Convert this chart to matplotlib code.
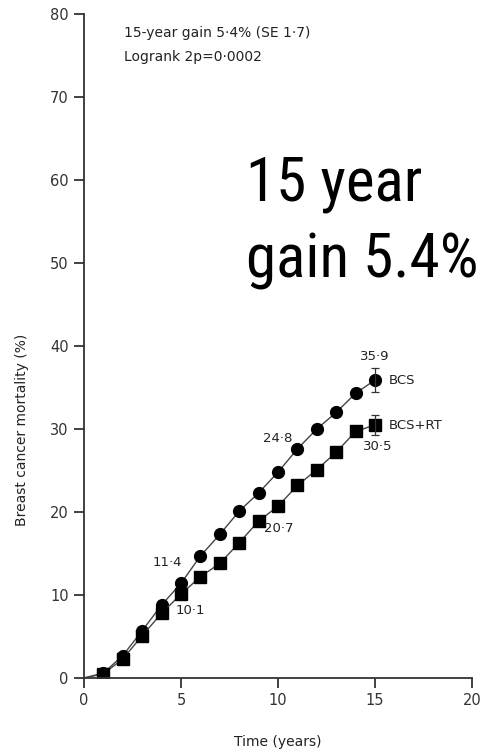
import matplotlib.pyplot as plt

years = [0, 1, 2, 3, 4, 5, 6, 7, 8, 9, 10, 11, 12, 13, 14, 15]
bcs = [0, 0.6, 2.7, 5.7, 8.8, 11.4, 14.7, 17.3, 20.1, 22.3, 24.8, 27.6, 30.0, 32.0, 34.3, 35.9]
bcs_rt = [0, 0.5, 2.3, 5.1, 7.8, 10.1, 12.2, 13.8, 16.3, 18.9, 20.7, 23.2, 25.1, 27.2, 29.7, 30.5]
bcs_se = 1.5
bcs_rt_se = 1.2

xticks = [0, 5, 10, 15, 20]
yticks = [0, 10, 20, 30, 40, 50, 60, 70, 80]

fig = plt.figure(figsize=(4.83, 7.54), dpi=100)
ax = fig.add_axes([84 / 483, 1 - 678 / 754, 388 / 483, 664 / 754])

ax.plot(years, bcs, color="#444444", lw=1.0, marker="o", ms=8.5,
        mfc="black", mec="black", markevery=range(1, len(years)))
ax.plot(years, bcs_rt, color="#444444", lw=1.0, marker="s", ms=8.5,
        mfc="black", mec="black", markevery=range(1, len(years)))
ax.errorbar([15], [bcs[-1]], yerr=bcs_se, fmt="none", ecolor="#333333",
            elinewidth=0.9, capsize=3, capthick=0.9)
ax.errorbar([15], [bcs_rt[-1]], yerr=bcs_rt_se, fmt="none", ecolor="#333333",
            elinewidth=0.9, capsize=3, capthick=0.9)

ax.set_xlim(0, 20)
ax.set_ylim(0, 80)
ax.set_xticks(xticks)
ax.set_yticks(yticks)
for s in ["top", "right"]:
    ax.spines[s].set_visible(False)
for s in ["left", "bottom"]:
    ax.spines[s].set_linewidth(1.3)
    ax.spines[s].set_color("#333333")
ax.tick_params(direction="out", length=7, width=1.3, color="#333333",
               labelsize=10.5, labelcolor="#333333", pad=4)
ax.patch.set_visible(False)

# value labels next to the curves
lab = dict(fontsize=9.5, color="#222222", va="center")
ax.text(15, 38.7, "35·9", ha="center", **lab)
ax.text(15.72, bcs[-1], "BCS", ha="left", **lab)
ax.text(15.72, bcs_rt[-1] - 0.1, "BCS+RT", ha="left", **lab)
ax.text(15.15, 27.9, "30·5", ha="center", **lab)
ax.text(10, 28.8, "24·8", ha="center", **lab)
ax.text(9.3, 18.0, "20·7", ha="left", **lab)
ax.text(5.05, 13.9, "11·4", ha="right", **lab)
ax.text(4.7, 8.1, "10·1", ha="left", **lab)

ax.text(2.05, 77.7, "15-year gain 5·4% (SE 1·7)", fontsize=10, color="#222222",
        ha="left", va="center")
ax.text(2.05, 74.8, "Logrank 2p=0·0002", fontsize=10, color="#222222",
        ha="left", va="center")

big = ["Roboto Condensed", "Archivo Narrow", "Roboto", "DejaVu Sans"]
ax.text(8.35, 57.5, "15 year", fontsize=44, ha="left", va="baseline", family=big)
ax.text(8.35, 48.3, "gain 5.4%", fontsize=44, ha="left", va="baseline", family=big)

fig.text(22 / 483, 1 - 430 / 754, "Breast cancer mortality (%)", rotation=90,
         ha="center", va="center", fontsize=10, color="#222222")
fig.text(278 / 483, 1 - 742 / 754, "Time (years)", ha="center", va="center",
         fontsize=10, color="#222222")

fig.savefig("out.png", dpi=100)
